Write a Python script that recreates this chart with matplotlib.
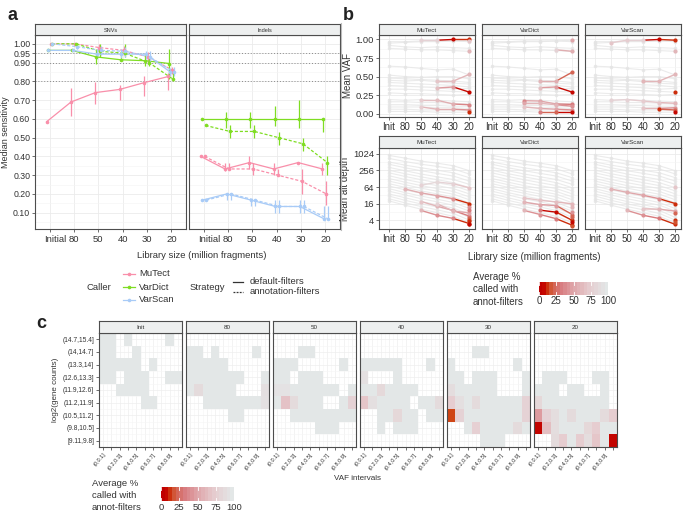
import numpy as np
import matplotlib
matplotlib.use('Agg')
import matplotlib.pyplot as plt
from matplotlib.colors import LinearSegmentedColormap, Normalize
from matplotlib.ticker import NullFormatter, FixedLocator
import matplotlib.transforms as mtransforms

plt.rcParams['font.family'] = ['Liberation Sans', 'DejaVu Sans']

# ---------------- DATA ----------------
lib_sizes_a = ["Initial", "80", "50", "40", "30", "20"]
lib_sizes_b = ["Init", "80", "50", "40", "30", "20"]
callers = ["MuTect", "VarDict", "VarScan"]
strategies = ["default-filters", "annotation-filters"]

# panel a: SNVs (median, lower, upper)
snv_mutect_def = [0.585, 0.69, 0.74, 0.757, 0.793, 0.826]
snv_mutect_def_lo = [0.585, 0.615, 0.68, 0.70, 0.72, 0.755]
snv_mutect_def_hi = [0.585, 0.765, 0.795, 0.78, 0.83, 0.845]
snv_mutect_ann = [1.0, 1.0, 0.98, 0.965, 0.93, 0.86]
snv_mutect_ann_lo = [1.0, 1.0, 0.955, 0.94, 0.90, 0.84]
snv_mutect_ann_hi = [1.0, 1.0, 1.0, 0.99, 0.955, 0.875]
snv_vardict_def = [0.965, 0.965, 0.93, 0.915, 0.91, 0.895]
snv_vardict_def_lo = [0.965, 0.965, 0.895, 0.91, 0.88, 0.81]
snv_vardict_def_hi = [0.965, 0.965, 0.965, 0.96, 0.945, 0.97]
snv_vardict_ann = [1.0, 1.0, 0.96, 0.95, 0.90, 0.81]
snv_vardict_ann_lo = [1.0, 0.99, 0.93, 0.93, 0.88, 0.80]
snv_vardict_ann_hi = [1.0, 1.0, 1.0, 1.0, 0.93, 0.86]
snv_varscan_def = [0.965, 0.965, 0.945, 0.945, 0.945, 0.85]
snv_varscan_def_lo = [0.965, 0.96, 0.92, 0.925, 0.92, 0.83]
snv_varscan_def_hi = [0.965, 0.975, 0.975, 0.975, 0.96, 0.87]
snv_varscan_ann = [1.0, 0.985, 0.965, 0.96, 0.93, 0.85]
snv_varscan_ann_lo = [1.0, 0.975, 0.94, 0.93, 0.91, 0.83]
snv_varscan_ann_hi = [1.0, 1.0, 0.99, 0.985, 0.96, 0.875]

# panel a: Indels
ind_mutect_def = [0.4, 0.333, 0.367, 0.333, 0.367, 0.333]
ind_mutect_def_lo = [0.4, 0.32, 0.333, 0.30, 0.367, 0.30]
ind_mutect_def_hi = [0.4, 0.367, 0.40, 0.367, 0.367, 0.367]
ind_mutect_ann = [0.4, 0.333, 0.333, 0.30, 0.267, 0.20]
ind_mutect_ann_lo = [0.4, 0.333, 0.30, 0.30, 0.20, 0.14]
ind_mutect_ann_hi = [0.4, 0.367, 0.367, 0.333, 0.333, 0.267]
ind_vardict_def = [0.6, 0.6, 0.6, 0.6, 0.6, 0.6]
ind_vardict_def_lo = [0.6, 0.55, 0.55, 0.56, 0.55, 0.53]
ind_vardict_def_hi = [0.6, 0.635, 0.635, 0.67, 0.70, 0.6]
ind_vardict_ann = [0.565, 0.533, 0.533, 0.50, 0.467, 0.367]
ind_vardict_ann_lo = [0.565, 0.50, 0.50, 0.46, 0.43, 0.30]
ind_vardict_ann_hi = [0.565, 0.567, 0.567, 0.53, 0.50, 0.40]
ind_varscan_def = [0.167, 0.2, 0.167, 0.133, 0.133, 0.067]
ind_varscan_def_lo = [0.167, 0.167, 0.133, 0.10, 0.10, 0.067]
ind_varscan_def_hi = [0.167, 0.2, 0.167, 0.167, 0.167, 0.133]
ind_varscan_ann = [0.167, 0.2, 0.167, 0.133, 0.133, 0.067]
ind_varscan_ann_lo = [0.167, 0.167, 0.133, 0.10, 0.10, 0.067]
ind_varscan_ann_hi = [0.167, 0.2, 0.167, 0.167, 0.167, 0.133]

sens_thresholds = [0.80, 0.90, 0.95]

# panel b: background variants (mean VAF, mean alt depth)
vaf_bg = [
    [0.97, 0.97, 0.98, 0.98, 0.98, 0.97],
    [0.95, 0.96, 0.97, 0.97, 0.98, 0.99],
    [0.92, 0.90, 0.89, 0.90, 0.89, 0.88],
    [0.88, 0.87, 0.86, 0.86, 0.85, 0.84],
    [0.64, 0.63, 0.61, 0.59, 0.60, 0.52],
    [0.52, 0.50, 0.49, 0.50, 0.50, 0.47],
    [0.48, 0.47, 0.46, 0.45, 0.44, 0.42],
    [0.45, 0.44, 0.45, 0.43, 0.41, 0.40],
    [0.42, 0.41, 0.40, 0.39, 0.38, 0.36],
    [0.38, 0.37, 0.36, 0.35, 0.33, 0.34],
    [0.33, 0.33, 0.32, 0.31, 0.30, 0.29],
    [0.28, 0.27, 0.27, 0.26, 0.25, 0.26],
    [0.19, 0.18, 0.19, 0.18, 0.17, 0.16],
    [0.16, 0.16, 0.15, 0.15, 0.14, 0.13],
    [0.12, 0.12, 0.11, 0.11, 0.10, 0.10],
    [0.09, 0.09, 0.09, 0.08, 0.08, 0.07],
    [0.06, 0.06, 0.05, 0.05, 0.05, 0.04],
    [0.03, 0.03, 0.03, 0.02, 0.02, 0.02],
]
depth_bg = [
    [900, 720, 560, 470, 380, 250],
    [700, 540, 430, 360, 290, 190],
    [520, 400, 320, 260, 210, 140],
    [430, 320, 250, 200, 160, 105],
    [330, 250, 190, 150, 120, 80],
    [260, 195, 150, 118, 92, 60],
    [210, 155, 118, 92, 72, 46],
    [165, 120, 92, 72, 56, 36],
    [130, 96, 72, 56, 44, 28],
    [105, 78, 58, 45, 35, 22],
    [85, 62, 46, 36, 28, 17],
    [70, 50, 38, 29, 22, 13.5],
    [56, 40, 30, 23, 17.5, 10.5],
    [45, 33, 24, 18.5, 14, 8.5],
    [36, 26, 19, 14.5, 11, 6.5],
    [30, 21, 15.5, 12, 9, 5],
    [24, 17, 12.5, 9.5, 7, 4],
    [20, 14, 10, 7.5, 5.5, 3.2],
]
N = None
# highlighted variants: (values, average % called with annot-filters)
vaf_hl_mutect = [
    ([N, N, 0.99, 0.99, 1.0, 1.0], [N, N, 80, 80, 5, 10]),
    ([N, N, N, N, N, 0.98], [N, N, N, N, N, 70]),
    ([N, N, N, N, N, 0.84], [N, N, N, N, N, 60]),
    ([N, N, N, 0.44, 0.44, 0.53], [N, N, N, 70, 65, 60]),
    ([N, N, N, 0.345, 0.36, 0.29], [N, N, N, 65, 45, 5]),
    ([N, N, 0.18, 0.18, 0.13, 0.12], [N, N, 75, 65, 55, 35]),
    ([N, N, 0.09, 0.06, 0.06, 0.05], [N, N, 75, 60, 55, 40]),
    ([N, N, N, N, N, 0.02], [N, N, N, N, N, 10]),
]
vaf_hl_vardict = [
    ([N, N, N, N, N, 0.99], [N, N, N, N, N, 50]),
    ([N, N, N, N, 0.86, 0.84], [N, N, N, N, 80, 55]),
    ([N, N, N, 0.44, 0.44, 0.56], [N, N, N, 60, 55, 20]),
    ([N, N, N, 0.35, 0.36, 0.29], [N, N, N, 65, 45, 5]),
    ([N, N, 0.175, 0.17, 0.13, 0.125], [N, N, 35, 50, 50, 30]),
    ([N, N, 0.14, 0.14, 0.12, 0.10], [N, N, 50, 60, 60, 40]),
    ([N, N, 0.09, 0.07, 0.06, 0.05], [N, N, 70, 60, 50, 40]),
    ([N, N, N, 0.02, 0.02, 0.02], [N, N, N, 30, 20, 5]),
]
vaf_hl_varscan = [
    ([N, 0.955, 0.99, 0.99, 1.0, 0.99], [N, 70, 75, 80, 5, 10]),
    ([N, N, N, N, N, 0.84], [N, N, N, N, N, 60]),
    ([N, N, N, 0.44, 0.44, 0.53], [N, N, N, 60, 60, 60]),
    ([N, N, N, N, N, 0.29], [N, N, N, N, N, 10]),
    ([N, 0.18, 0.19, 0.17, 0.15, 0.14], [N, 80, 80, 75, 70, 60]),
    ([N, N, N, 0.07, 0.07, 0.08], [N, N, N, 70, 60, 40]),
    ([N, N, N, N, 0.06, 0.05], [N, N, N, N, 10, 20]),
    ([N, N, N, N, N, 0.02], [N, N, N, N, N, 5]),
]
depth_hl_mutect = [
    ([N, N, 74, 97, 84, 60], [N, N, 80, 85, 80, 70]),
    ([N, 54, 39, 31, 24, 16], [N, 60, 55, 50, 40, 10]),
    ([N, N, 19, 12.8, 9, 5.6], [N, N, 70, 60, 50, 30]),
    ([N, N, 9, 6, 4.6, 3], [N, N, 60, 40, 35, 10]),
    ([N, N, N, 15.6, 8.5, 7.4], [N, N, N, 80, 60, 50]),
    ([N, N, N, N, N, 11.8], [N, N, N, N, N, 40]),
    ([N, N, N, N, N, 9.7], [N, N, N, N, N, 30]),
    ([N, N, N, N, N, 4.9], [N, N, N, N, N, 20]),
    ([N, N, N, N, N, 4.2], [N, N, N, N, N, 15]),
    ([N, N, N, N, N, 3.7], [N, N, N, N, N, 10]),
    ([N, N, N, N, N, 2.8], [N, N, N, N, N, 5]),
]
depth_hl_vardict = [
    ([N, N, 25.6, 21, 18.4, 15.6], [N, N, 70, 70, 65, 60]),
    ([N, N, 17.9, 14.7, 13.5, 6.4], [N, N, 60, 50, 45, 20]),
    ([N, N, N, 9.2, 7.8, 3.9], [N, N, N, 30, 5, 10]),
    ([N, N, 9, 6.4, 4.5, 2.6], [N, N, 60, 40, 30, 10]),
    ([N, N, N, N, N, 12], [N, N, N, N, N, 60]),
    ([N, N, N, N, N, 8], [N, N, N, N, N, 40]),
    ([N, N, N, N, N, 5], [N, N, N, N, N, 20]),
    ([N, N, N, N, N, 3.4], [N, N, N, N, N, 5]),
    ([N, N, N, N, N, 2.4], [N, N, N, N, N, 15]),
]
depth_hl_varscan = [
    ([N, N, N, N, N, 62], [N, N, N, N, N, 70]),
    ([N, 54, 41, 32, 24, 16], [N, 60, 55, 50, 40, 10]),
    ([N, N, N, 10.3, 10, 8.5], [N, N, N, 70, 60, 50]),
    ([N, N, 9, 6, 4.6, 2.8], [N, N, 60, 40, 30, 10]),
    ([N, N, N, N, N, 7.4], [N, N, N, N, N, 20]),
    ([N, N, N, N, N, 4.2], [N, N, N, N, N, 10]),
    ([N, N, N, N, N, 3.3], [N, N, N, N, N, 15]),
]

# panel c: heatmaps (rows: gene count bins, cols: VAF bins), value = avg % called
gene_bins = ["(14.7,15.4]", "(14,14.7]", "(13.3,14]", "(12.6,13.3]", "(11.9,12.6]",
             "(11.2,11.9]", "(10.5,11.2]", "(9.8,10.5]", "[9.11,9.8]"]
vaf_bins = ["(0,0.1]", "(0.1,0.2]", "(0.2,0.3]", "(0.3,0.4]", "(0.4,0.5]",
            "(0.5,0.6]", "(0.6,0.7]", "(0.7,0.8]", "(0.8,0.9]", "(0.9,1]"]
G = 100
heat_init = [
    [G, G, N, G, N, N, N, N, G, N],
    [G, G, N, N, G, N, N, N, N, N],
    [G, G, G, G, G, N, G, N, N, N],
    [G, G, N, G, G, G, N, N, G, G],
    [N, N, G, G, G, G, N, N, N, N],
    [N, N, N, N, N, G, G, N, N, N],
    [N, N, N, N, N, N, N, N, N, N],
    [N, N, N, N, N, N, N, N, N, N],
    [N, N, N, N, N, N, N, N, N, N],
]
heat_80 = [
    [N, N, N, N, N, N, N, N, N, N],
    [G, G, N, G, N, N, N, N, G, N],
    [G, G, G, G, G, N, N, N, N, N],
    [G, G, G, G, G, G, G, N, N, G],
    [G, 88, G, G, G, G, N, N, N, 92],
    [N, N, G, G, G, G, G, G, G, 93],
    [N, N, N, N, N, G, G, N, N, N],
    [N, N, N, N, N, N, N, N, N, N],
    [N, N, N, N, N, N, N, N, N, N],
]
heat_50 = [
    [N, N, N, N, N, N, N, N, N, N],
    [N, N, N, G, G, N, N, N, N, N],
    [G, G, G, N, N, N, N, N, G, N],
    [G, G, N, G, G, G, N, N, N, N],
    [95, 95, G, G, G, G, G, G, N, G],
    [G, 68, 88, G, G, G, N, N, G, 80],
    [N, N, G, G, G, G, G, G, G, G],
    [N, N, N, N, N, G, G, G, N, N],
    [N, N, N, N, N, N, N, N, N, N],
]
heat_40 = [
    [N, N, N, N, N, N, N, N, N, N],
    [N, N, N, N, N, N, N, N, N, N],
    [G, G, G, G, G, N, N, N, G, N],
    [93, N, N, N, G, N, N, N, N, N],
    [G, G, 86, G, G, G, G, N, N, N],
    [70, 92, G, G, G, G, N, G, G, 88],
    [N, N, G, G, 85, G, G, N, G, G],
    [N, N, G, N, G, G, G, N, N, N],
    [N, N, N, N, N, N, N, N, N, N],
]
heat_30 = [
    [N, N, N, N, N, N, N, N, N, N],
    [N, N, N, G, G, N, N, N, N, N],
    [G, N, N, N, N, N, N, N, G, N],
    [G, G, N, G, G, G, N, N, N, G],
    [90, G, G, G, G, G, N, N, N, G],
    [75, 92, G, 88, G, G, G, G, G, 80],
    [12, 80, G, G, G, G, G, G, G, 80],
    [N, N, G, 78, G, G, G, G, 88, G],
    [N, N, N, N, G, G, G, N, N, N],
]
heat_20 = [
    [N, N, N, N, N, N, N, N, N, N],
    [N, N, N, N, N, N, N, N, N, N],
    [N, N, N, N, N, N, N, N, N, N],
    [N, G, G, G, N, N, N, G, G, N],
    [G, G, G, N, G, G, N, N, G, N],
    [85, G, G, G, G, G, G, G, G, N],
    [45, 80, 90, G, 88, G, G, G, 88, 75],
    [3, 65, 90, G, G, G, 85, 75, G, G],
    [N, N, 88, 75, G, 75, 90, 70, G, 3],
]
heat_panels = [("Init", heat_init), ("80", heat_80), ("50", heat_50),
               ("40", heat_40), ("30", heat_30), ("20", heat_20)]

# ---------------- STYLE ----------------
caller_colors = {"MuTect": "#F98FAA", "VarDict": "#7FDD22", "VarScan": "#A8CBF7"}
cmap = LinearSegmentedColormap.from_list("annot", [
    (0.0, "#C00000"), (0.07, "#C80A00"), (0.12, "#CF4816"), (0.18, "#D3604C"),
    (0.30, "#D87B7E"), (0.50, "#DFA6AA"), (0.75, "#E6CDD0"), (1.0, "#E3E7E7")])
norm = Normalize(0, 100)
BORDER = "#4D4D4D"
GRID = "#EBEBEB"
TXT = "#333333"

W, H = 685, 514
fig = plt.figure(figsize=(W / 100, H / 100), dpi=100)


def add_ax(x0, y0, x1, y1):
    return fig.add_axes([x0 / W, 1 - y1 / H, (x1 - x0) / W, (y1 - y0) / H])


def style_panel(ax):
    for sp in ax.spines.values():
        sp.set_color(BORDER)
        sp.set_linewidth(0.8)
    ax.tick_params(colors=TXT, length=2, width=0.5, labelcolor=TXT, pad=1.5)
    ax.set_axisbelow(True)


def strip(x0, y0, x1, y1, text, fs):
    s = add_ax(x0, y0, x1, y1)
    s.set_xticks([])
    s.set_yticks([])
    s.set_facecolor("#EDEFEF")
    for sp in s.spines.values():
        sp.set_color(BORDER)
        sp.set_linewidth(0.8)
    s.text(0.5, 0.45, text, ha="center", va="center", fontsize=fs, color=TXT,
           transform=s.transAxes)
    return s


# ---------------- PANEL A ----------------
snv_series = {
    ("MuTect", 0): (snv_mutect_def, snv_mutect_def_lo, snv_mutect_def_hi),
    ("MuTect", 1): (snv_mutect_ann, snv_mutect_ann_lo, snv_mutect_ann_hi),
    ("VarDict", 0): (snv_vardict_def, snv_vardict_def_lo, snv_vardict_def_hi),
    ("VarDict", 1): (snv_vardict_ann, snv_vardict_ann_lo, snv_vardict_ann_hi),
    ("VarScan", 0): (snv_varscan_def, snv_varscan_def_lo, snv_varscan_def_hi),
    ("VarScan", 1): (snv_varscan_ann, snv_varscan_ann_lo, snv_varscan_ann_hi),
}
ind_series = {
    ("MuTect", 0): (ind_mutect_def, ind_mutect_def_lo, ind_mutect_def_hi),
    ("MuTect", 1): (ind_mutect_ann, ind_mutect_ann_lo, ind_mutect_ann_hi),
    ("VarDict", 0): (ind_vardict_def, ind_vardict_def_lo, ind_vardict_def_hi),
    ("VarDict", 1): (ind_vardict_ann, ind_vardict_ann_lo, ind_vardict_ann_hi),
    ("VarScan", 0): (ind_varscan_def, ind_varscan_def_lo, ind_varscan_def_hi),
    ("VarScan", 1): (ind_varscan_ann, ind_varscan_ann_lo, ind_varscan_ann_hi),
}
caller_off = {"MuTect": -0.04, "VarDict": 0.0, "VarScan": 0.03}
strat_off = [-0.08, 0.08]
yticks_a = [0.1, 0.2, 0.3, 0.4, 0.5, 0.6, 0.7, 0.8, 0.9, 0.95, 1.0]

for i, (title, series, x0, x1) in enumerate([("SNVs", snv_series, 35, 186),
                                             ("Indels", ind_series, 189, 340)]):
    ax = add_ax(x0, 35, x1, 229)
    strip(x0, 24, x1, 35, title, 4)
    style_panel(ax)
    xpos = np.arange(len(lib_sizes_a))
    ax.set_xlim(-0.6, 5.6)
    ax.set_ylim(0.013, 1.047)
    ax.set_yticks(yticks_a)
    ax.set_yticks(np.arange(0.05, 1.0, 0.1), minor=True)
    ax.grid(True, which="major", color=GRID, lw=0.6)
    ax.grid(True, which="minor", color="#F4F4F4", lw=0.4)
    ax.tick_params(which="minor", length=0)
    if i == 0:
        ax.set_yticklabels(["%.2f" % v for v in yticks_a], fontsize=6.3)
        ax.set_ylabel("Median sensitivity", fontsize=6.5, color=TXT, labelpad=2)
    else:
        ax.set_yticklabels([])
        ax.tick_params(axis="y", length=0)
    ax.set_xticks(xpos)
    ax.set_xticklabels([""] * len(xpos))
    trans = mtransforms.blended_transform_factory(ax.transData, ax.transAxes)
    for k, lab in enumerate(lib_sizes_a):
        ax.text(xpos[k] + (0.23 if k == 0 else 0), -0.03, lab, transform=trans,
                ha="center", va="top", fontsize=6.8, color=TXT)
    for y in sens_thresholds:
        ax.axhline(y, color="#8A8A8A", lw=0.7, ls=(0, (1, 2)), zorder=1)
    for (caller, s), (vals, lo, hi) in series.items():
        xs = xpos + caller_off[caller] + strat_off[s]
        col = caller_colors[caller]
        ls = "-" if s == 0 else (0, (2.5, 1.5))
        ax.plot(xs, vals, color=col, lw=0.9, ls=ls, zorder=3)
        ax.vlines(xs, lo, hi, color=col, lw=0.9, zorder=3)
        ax.plot(xs, vals, "o", color=col, ms=2.6, zorder=4, mec="none")

# ---------------- PANEL B ----------------
b_x = [379, 482, 585]
b_w = 96
xb = np.arange(len(lib_sizes_b))


def draw_hl(ax, hl):
    for vals, pcts in hl:
        pts = [(x, v, p) for x, v, p in zip(xb, vals, pcts) if v is not None]
        for (xa, va, pa), (xc, vc, pc) in zip(pts[:-1], pts[1:]):
            ax.plot([xa, xc], [va, vc], color=cmap(norm(pc)), lw=1.0, zorder=3)
        for x, v, p in pts:
            ax.plot(x, v, "o", ms=3, color=cmap(norm(p)), mec="none", zorder=4)


vaf_hls = [vaf_hl_mutect, vaf_hl_vardict, vaf_hl_varscan]
depth_hls = [depth_hl_mutect, depth_hl_vardict, depth_hl_varscan]
for j, caller in enumerate(callers):
    x0 = b_x[j]
    # top row: VAF
    ax = add_ax(x0, 35, x0 + b_w, 117)
    strip(x0, 24, x0 + b_w, 35, caller, 4.5)
    style_panel(ax)
    ax.set_xlim(-0.62, 5.35)
    ax.set_ylim(-0.045, 1.06)
    ax.set_yticks([0, 0.25, 0.5, 0.75, 1.0])
    ax.set_yticks([0.125, 0.375, 0.625, 0.875], minor=True)
    ax.grid(True, which="major", color=GRID, lw=0.6)
    ax.grid(True, which="minor", color="#F4F4F4", lw=0.4, axis="y")
    ax.tick_params(which="minor", length=0)
    ax.set_xticks(xb)
    ax.set_xticklabels(lib_sizes_b, fontsize=7)
    if j == 0:
        ax.set_yticklabels(["0.00", "0.25", "0.50", "0.75", "1.00"], fontsize=6.8)
        ax.set_ylabel("Mean VAF", fontsize=7, color=TXT, labelpad=2)
    else:
        ax.set_yticklabels([])
        ax.tick_params(axis="y", length=0)
    for vals in vaf_bg:
        ax.plot(xb, vals, color="#E6E6E6", lw=0.8, alpha=0.8, zorder=2)
        ax.plot(xb, vals, "o", color="#E4E4E4", ms=2.6, mec="none", alpha=0.8, zorder=2)
    draw_hl(ax, vaf_hls[j])

    # bottom row: alt depth
    ax = add_ax(x0, 148, x0 + b_w, 229)
    strip(x0, 136, x0 + b_w, 148, caller, 4.5)
    style_panel(ax)
    ax.set_yscale("log", base=2)
    ax.set_xlim(-0.62, 5.35)
    ax.set_ylim(2 ** 0.93, 2 ** 10.71)
    ax.yaxis.set_major_locator(FixedLocator([4, 16, 64, 256, 1024]))
    ax.yaxis.set_minor_locator(FixedLocator([8, 32, 128, 512]))
    ax.yaxis.set_minor_formatter(NullFormatter())
    ax.grid(True, which="major", color=GRID, lw=0.6)
    ax.grid(True, which="minor", color="#F4F4F4", lw=0.4, axis="y")
    ax.tick_params(which="minor", length=0)
    ax.set_xticks(xb)
    ax.set_xticklabels(lib_sizes_b, fontsize=7)
    if j == 0:
        ax.set_yticklabels(["4", "16", "64", "256", "1024"], fontsize=6.8)
        ax.set_ylabel("Mean alt depth", fontsize=7, color=TXT, labelpad=2)
    else:
        ax.yaxis.set_major_formatter(NullFormatter())
        ax.tick_params(axis="y", length=0)
    for vals in depth_bg:
        ax.plot(xb, vals, color="#E6E6E6", lw=0.8, alpha=0.8, zorder=2)
        ax.plot(xb, vals, "o", color="#E4E4E4", ms=2.6, mec="none", alpha=0.8, zorder=2)
    draw_hl(ax, depth_hls[j])

# ---------------- PANEL C ----------------
c_x0 = 99
c_step = 87
c_w = 83
for k, (title, grid) in enumerate(heat_panels):
    x0 = c_x0 + c_step * k
    ax = add_ax(x0, 333, x0 + c_w, 447)
    strip(x0, 321, x0 + c_w, 333, title, 4.5)
    style_panel(ax)
    arr = np.ma.masked_invalid(np.array(grid, dtype=float))
    ax.pcolormesh(np.arange(len(vaf_bins) + 1), np.arange(len(gene_bins) + 1), arr,
                  cmap=cmap, norm=norm, zorder=2)
    ax.set_xlim(0, len(vaf_bins))
    ax.set_ylim(len(gene_bins), 0)
    ax.set_xticks(np.arange(len(vaf_bins)) + 0.5)
    ax.set_xticklabels([lab if m % 2 == 0 else "" for m, lab in enumerate(vaf_bins)],
                       rotation=50, ha="right", rotation_mode="anchor", fontsize=4)
    ax.set_xticks(np.arange(len(vaf_bins) + 1), minor=True)
    ax.set_yticks(np.arange(len(gene_bins)) + 0.5)
    ax.set_yticks(np.arange(len(gene_bins) + 1), minor=True)
    ax.grid(True, which="major", color="#EEEEEE", lw=0.5)
    ax.grid(True, which="minor", color="#F5F5F5", lw=0.4)
    ax.tick_params(which="minor", length=0)
    if k == 0:
        ax.set_yticklabels(gene_bins, fontsize=4.8)
        ax.set_ylabel("log2(gene counts)", fontsize=5.8, color=TXT, labelpad=2)
    else:
        ax.set_yticklabels([])
        ax.tick_params(axis="y", length=0)

# ---------------- OVERLAY (labels, legends) ----------------
ov = fig.add_axes([0, 0, 1, 1])
ov.set_xlim(0, W)
ov.set_ylim(H, 0)
ov.axis("off")

ov.text(8, 15, "a", fontsize=13, fontweight="bold", va="center", ha="left", color="#222222")
ov.text(343, 15, "b", fontsize=13, fontweight="bold", va="center", ha="left", color="#222222")
ov.text(36, 323, "c", fontsize=13, fontweight="bold", va="center", ha="left", color="#222222")

ov.plot([341, 341], [23, 230], color="#BBBBBB", lw=0.8)

ov.text(202, 255, "Library size (million fragments)", fontsize=6.8, ha="center", va="center", color=TXT)
ov.text(534, 257, "Library size (million fragments)", fontsize=7, ha="center", va="center", color=TXT)
ov.text(358, 478, "VAF intervals", fontsize=5.8, ha="center", va="center", color=TXT)

# panel a legend
ov.text(87, 287, "Caller", fontsize=6.8, ha="left", va="center", color=TXT)
for yy, c in zip([274, 287, 300], callers):
    ov.plot([123, 135], [yy, yy], color=caller_colors[c], lw=0.9)
    ov.plot(129, yy, "o", color=caller_colors[c], ms=2.6, mec="none")
    ov.text(139, yy, c, fontsize=6.8, ha="left", va="center", color=TXT)
ov.text(190, 287, "Strategy", fontsize=6.8, ha="left", va="center", color=TXT)
ov.plot([233, 243], [282, 282], color="#333333", lw=0.9)
ov.plot([233, 243], [292, 292], color="#333333", lw=0.9, ls=(0, (1.5, 1)))
ov.text(250, 282, strategies[0], fontsize=6.8, ha="left", va="center", color=TXT)
ov.text(250, 292, strategies[1], fontsize=6.8, ha="left", va="center", color=TXT)


def colorbar_legend(tx, ty, bx0, bx1, by0, by1, fs):
    for m, line in enumerate(["Average %", "called with", "annot-filters"]):
        ov.text(tx, ty + m * 12.5, line, fontsize=fs, ha="left", va="center", color=TXT)
    cax = add_ax(bx0, by0, bx1, by1)
    grad = np.linspace(0, 100, 20).reshape(1, -1)
    cax.imshow(grad, aspect="auto", cmap=cmap, norm=norm, extent=[0, 100, 0, 1])
    cax.set_xlim(0, 100)
    cax.set_ylim(0, 1)
    cax.axis("off")
    for v in [0, 25, 50, 75, 100]:
        cax.plot([v, v], [0, 0.2], color="white", lw=0.6)
        cax.plot([v, v], [0.8, 1], color="white", lw=0.6)
        xx = bx0 + (bx1 - bx0) * v / 100
        ov.text(xx, by1 + 6.5, str(v), fontsize=fs, ha="center", va="center", color=TXT)


colorbar_legend(473, 277, 539, 608, 282, 295, 7)
colorbar_legend(92, 483, 161, 234, 487, 501, 6.8)

fig.savefig("out.png", dpi=100)
